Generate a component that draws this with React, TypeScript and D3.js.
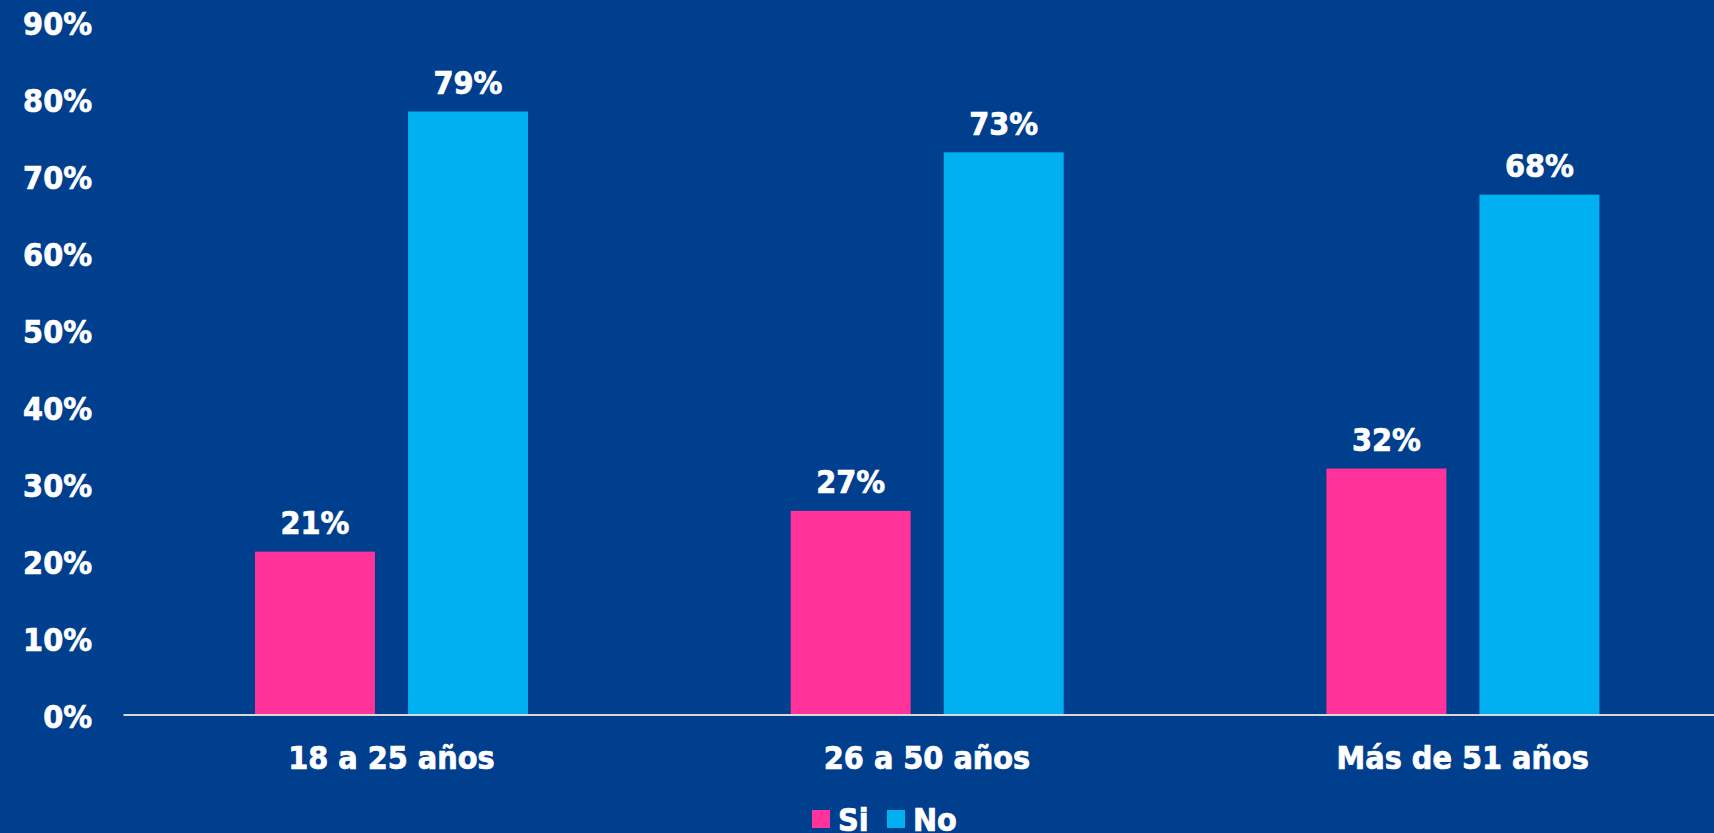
import React from "react";
import * as d3 from "d3";

const categories = ["18 a 25 años", "26 a 50 años", "Más de 51 años"];
const seriesNames = ["Si", "No"];
const siValues = [21.1, 26.4, 31.9];
const noValues = [78.3, 73.0, 67.5];
const valueLabels = [["21%", "27%", "32%"], ["79%", "73%", "68%"]];
const yTicks = [0, 10, 20, 30, 40, 50, 60, 70, 80, 90];

const W = 1714;
const H = 833;
const BG = "#003E8E";
const COLORS = ["#FF3399", "#00B0F0"];
const FONT = "'DejaVu Sans Condensed', 'DejaVu Sans', Verdana, sans-serif";

export default function App() {
  const x0 = d3.scaleBand<string>().domain(categories).range([123.5, 1730.6]).padding(0);
  const x1 = d3
    .scaleBand<string>()
    .domain(seriesNames)
    .range([131.5, 404.5])
    .paddingInner(0.216)
    .paddingOuter(0);
  const y = d3.scaleLinear().domain([0, 90]).range([714, 21.5]);
  const series = [siValues, noValues];

  const textStyle: React.CSSProperties = {
    fontFamily: FONT,
    fontWeight: 700,
    fontStretch: "condensed",
  };
  const txt = { fill: "#fff", stroke: "#fff", strokeWidth: 0.7, fontSize: 32, style: textStyle };

  return (
    <svg
      width={W}
      height={H}
      style={{ position: "fixed", left: 0, top: 0, background: BG, display: "block" }}
    >
      <rect x={0} y={0} width={W} height={H} fill={BG} />
      {yTicks.map((t) => (
        <text key={t} x={92} y={y(t) + 13.5} textAnchor="end" {...txt}>
          {t}%
        </text>
      ))}
      {categories.map((c, ci) => (
        <g key={c} transform={`translate(${x0(c)},0)`}>
          {seriesNames.map((s, si) => {
            const v = series[si][ci];
            const bx = x1(s)!;
            const bw = x1.bandwidth();
            return (
              <g key={s}>
                <rect x={bx} y={y(v)} width={bw} height={y(0) - y(v)} fill={COLORS[si]} />
                <text x={bx + bw / 2} y={y(v) - 17.5} textAnchor="middle" {...txt}>
                  {valueLabels[si][ci]}
                </text>
              </g>
            );
          })}
          <text x={x0.bandwidth() / 2} y={769} textAnchor="middle" {...txt}>
            {c}
          </text>
        </g>
      ))}
      <line x1={123.5} x2={1731} y1={y(0) + 1} y2={y(0) + 1} stroke="#D9D9D9" strokeWidth={2} />
      {seriesNames.map((s, i) => {
        const lx = [812, 887][i];
        return (
          <g key={s}>
            <rect x={lx} y={810} width={18} height={18} fill={COLORS[i]} />
            <text x={lx + 26} y={831} {...txt}>
              {s}
            </text>
          </g>
        );
      })}
    </svg>
  );
}
